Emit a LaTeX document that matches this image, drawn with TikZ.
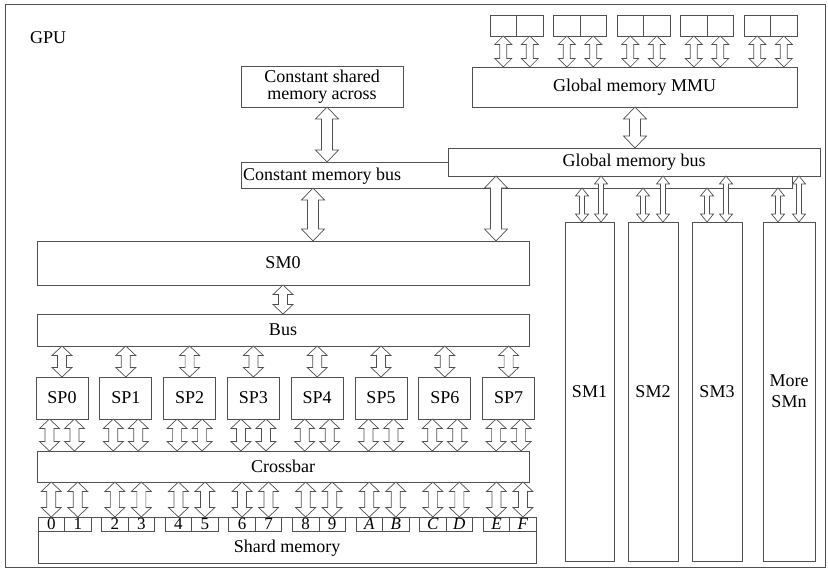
\documentclass[tikz,border=0pt]{standalone}
\usepackage{fontspec}
\setmainfont{Liberation Serif}
\usetikzlibrary{calc}
\definecolor{ln}{HTML}{505050}
\tikzset{
  box/.style={draw=ln, line width=0.8pt, fill=white, inner sep=0pt, outer sep=0pt, align=center, font=\fontsize{18}{20}\selectfont},
  lbl/.style={inner sep=0pt, font=\fontsize{18}{20}\selectfont},
  cellbox/.style={box, font=\fontsize{17}{17}\selectfont},
  arr/.style={draw=ln, line width=0.7pt, fill=white, line join=miter},
}
% box from corners (in px): [style]{name}{x1}{y1}{x2}{y2}{text}
\newcommand\bx[7][]{\node[box,minimum width={(#5-#3)*1pt},minimum height={(#6-#4)*1pt},#1] (#2) at ({(#3+#5)/2},{(#4+#6)/2}) {#7};}
% hollow double arrow: {x}{top anchor}{bottom anchor}{shaft half}{head half}{head length}
\newcommand\darrow[6]{\draw[arr] let \p1=(#2), \p2=(#3), \p3=(#1,0) in
  (\x3,\y1) -- (\x3+#5pt,\y1-#6pt) -- (\x3+#4pt,\y1-#6pt) -- (\x3+#4pt,\y2+#6pt) -- (\x3+#5pt,\y2+#6pt) --
  (\x3,\y2) -- (\x3-#5pt,\y2+#6pt) -- (\x3-#4pt,\y2+#6pt) -- (\x3-#4pt,\y1-#6pt) -- (\x3-#5pt,\y1-#6pt) -- cycle;}
\newcommand\bigarr[3]{\darrow{#1}{#2}{#3}{5.5}{11.5}{12}}
\newcommand\midarr[3]{\darrow{#1}{#2}{#3}{4.5}{10}{9.5}}
\newcommand\chiparr[3]{\darrow{#1}{#2}{#3}{3.5}{8.5}{8.5}}
\newcommand\smarr[3]{\darrow{#1}{#2}{#3}{2.5}{6.5}{8}}
\begin{document}
\begin{tikzpicture}[x=1pt,y=-1pt]
\useasboundingbox (0,0) rectangle (828,569);
\bx[fill=none]{frame}{5}{4}{825}{567}{}
\node[lbl, anchor=west] (gpu) at (30,38) {GPU};

% constant memory
\bx[font=\fontsize{18}{17}\selectfont]{csm}{241}{66}{403}{107}{Constant shared\\memory across}
\bx{cbus}{241}{162}{792}{188}{}
\node[lbl] (cbustxt) at (322,176) {Constant memory bus};
\bx{gbus}{448}{148}{820}{176}{Global memory bus}
\bx{mmu}{472}{67}{797}{107}{Global memory MMU}

% memory chips
\foreach \i in {0,...,4}{
  \pgfmathsetmacro\xl{490+63.5*\i}
  \pgfmathsetmacro\xm{\xl+26.5}
  \pgfmathsetmacro\xr{\xl+53}
  \bx{chipa\i}{\xl}{15}{\xm}{36}{}
  \bx{chipb\i}{\xm}{15}{\xr}{36}{}
}

% SM0 block
\bx{sm0}{37}{241}{529}{285}{SM0}
\bx{bus}{37}{314}{529}{346}{Bus}
\bx{xbar}{37}{451}{529}{482}{Crossbar}
\bx{shard}{38}{517}{536}{563}{}
\node[lbl] (shardtxt) at (287,548) {Shard memory};

\foreach \i in {0,...,7}{
  \pgfmathsetmacro\xl{36+63.8*\i}
  \pgfmathsetmacro\xr{\xl+52}
  \bx{sp\i}{\xl}{377}{\xr}{419}{SP\i}
}

\foreach \i/\a/\b in {0/0/1,1/2/3,2/4/5,3/6/7,4/8/9,5/{\textit{A}}/{\textit{B}},6/{\textit{C}}/{\textit{D}},7/{\textit{E}}/{\textit{F}}}{
  \pgfmathsetmacro\xl{38+63.6*\i}
  \pgfmathsetmacro\xm{\xl+26.5}
  \node[cellbox,minimum width=26.5pt,minimum height=14pt] (cella\i) at ({\xl+13.25},524) {\a};
  \node[cellbox,minimum width=26.5pt,minimum height=14pt] (cellb\i) at ({\xm+13.25},524) {\b};
}

% other SMs
\bx{sm1}{565}{222}{614}{561}{SM1}
\bx{sm2}{628}{222}{678}{561}{SM2}
\bx{sm3}{692}{222}{742}{561}{SM3}
\bx[font=\fontsize{18}{21}\selectfont]{smn}{763}{222}{815}{561}{More\\SMn}

% arrows
\bigarr{327}{csm.south}{cbus.north}
\bigarr{635}{mmu.south}{gbus.north}
\bigarr{313}{cbus.south}{sm0.north}
\bigarr{496}{gbus.south}{sm0.north}
\midarr{283}{sm0.south}{bus.north}

\foreach \i in {0,...,4}{
  \pgfmathsetmacro\xa{490+63.5*\i+13.25}
  \pgfmathsetmacro\xb{\xa+26.5}
  \chiparr{\xa}{chipa\i.south}{mmu.north}
  \chiparr{\xb}{chipb\i.south}{mmu.north}
}

\foreach \i in {0,...,7}{
  \pgfmathsetmacro\xc{36+63.8*\i+26}
  \pgfmathsetmacro\xa{\xc-12.5}
  \pgfmathsetmacro\xb{\xc+12.5}
  \midarr{\xc}{bus.south}{sp\i.north}
  \midarr{\xa}{sp\i.south}{xbar.north}
  \midarr{\xb}{sp\i.south}{xbar.north}
  \pgfmathsetmacro\ca{38+63.6*\i+13.25}
  \pgfmathsetmacro\cb{\ca+26.5}
  \midarr{\ca}{xbar.south}{cella\i.north}
  \midarr{\cb}{xbar.south}{cellb\i.north}
}

\smarr{582}{cbus.south}{sm1.north}
\smarr{601}{gbus.south}{sm1.north}
\smarr{643}{cbus.south}{sm2.north}
\smarr{663}{gbus.south}{sm2.north}
\smarr{707}{cbus.south}{sm3.north}
\smarr{726}{gbus.south}{sm3.north}
\smarr{778}{cbus.south}{smn.north}
\smarr{799}{gbus.south}{smn.north}
\end{tikzpicture}
\end{document}
